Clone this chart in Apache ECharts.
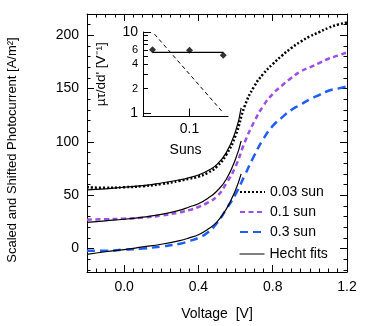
<!DOCTYPE html>
<html>
<head>
<meta charset="utf-8">
<script src="https://cdn.jsdelivr.net/npm/echarts@6/dist/echarts.min.js"></script>
<style>
html,body{margin:0;padding:0;background:#fff;}
#chart{width:382px;height:326px;}
</style>
</head>
<body>
<div id="chart"></div>
<script>
// main panel data (voltage in V, current in A/m2)
var voltage = [-0.2,-0.1,0.0,0.1,0.2,0.3,0.35,0.4,0.45,0.5,0.55,0.6,0.65,0.7,0.75,0.8,0.85,0.9,0.95,1.0,1.05,1.1,1.15,1.2];
var sun003 = [57.5,57,57.5,58.5,60.5,63.5,65.5,67.5,71,77,88,106,134,152,164,173,181,188,194,199,203,207,210,212];
var sun01  = [27,27.5,28,29,31,34,36,39,43,49,61,77,100,119,134,145,153,160,166,170,174,178,181,184];
var sun03  = [-2,-2,-1,0,2,4.5,7,10,15,24,37,51,69,87,103,115,123,130,135,140,144,148,150,152];
var fitVoltage = [-0.2,-0.1,0.0,0.1,0.2,0.3,0.35,0.4,0.45,0.5,0.55,0.6,0.63];
var fit003 = [55,56,57.5,59,61.5,64.5,66.5,69,73,79,90,110,132];
var fit01  = [24.5,26,27.5,29.5,32,36,39,42,47,54,65,84,101];
var fit03  = [-5.5,-3,-1,1.5,4,7.5,10,13,18,25,37,55,70];
var xLabels = [0, 0.4, 0.8, 1.2];
var yLabels = [0, 50, 100, 150, 200];
var yMinor = [-20,-10,0,10,20,30,40,50,60,70,80,90,100,110,120,130,140,150,160,170,180,190,200,210,220];

// inset data
var suns = [0.03, 0.1, 0.3];
var mutau = [6.05, 5.95, 5.15];
var fitSuns = [0.03, 0.3];
var mutauFit = [5.6, 5.6];
var dashSuns = [0.032, 0.3];
var dashVals = [9.4, 1.0];
var insetXLabels = [0.1];
var insetYLabels = [1, 2, 4, 6, 10];
var insetYMinor = [2, 3, 4, 5, 6, 7, 8, 9];

var FONT = 'Liberation Sans, Arial, sans-serif';

function zip(xs, ys){
	var out = [];
	for(var i=0;i<xs.length;i++){
		out.push([xs[i], ys[i]]);
	}
	return out;
}

var chartDom = document.getElementById('chart');
var myChart = echarts.init(chartDom);

var lineAx = {show:true, onZero:false, lineStyle:{color:'#000', width:1}};
var noLine = {show:false, onZero:false};
var noLabel = {show:false};

// main axes: one set for labels/major ticks, one for minor ticks, mirrored on the other side
function mainX(pos, major){
	var ax = {
		type:'value', gridIndex:0, position:pos, min:-0.2, max:1.2,
		axisLine: major ? lineAx : noLine,
		axisTick: major ? {show:true, inside:true, length:7, customValues:xLabels, lineStyle:{color:'#000'}}
		                : {show:true, inside:true, length:3.5, lineStyle:{color:'#000'}},
		axisLabel: (major && pos=='bottom') ? {
			show:true, customValues:xLabels, color:'#000', fontSize:14, fontFamily:FONT, margin:8,
			formatter:function(v){ return v.toFixed(1); }
		} : noLabel,
		splitLine:{show:false}
	};
	if(!major) ax.interval = 0.05;
	return ax;
}
function mainY(pos, major){
	return {
		type:'value', gridIndex:0, position:pos, min:-22, max:220,
		axisLine: major ? lineAx : noLine,
		axisTick: major ? {show:true, inside:true, length:7, customValues:yLabels, lineStyle:{color:'#000'}}
		                : {show:true, inside:true, length:3.5, customValues:yMinor, lineStyle:{color:'#000'}},
		axisLabel: (major && pos=='left') ? {
			show:true, customValues:yLabels, color:'#000', fontSize:14, fontFamily:FONT, margin:8
		} : noLabel,
		splitLine:{show:false}
	};
}

var xAxes = [mainX('bottom',true), mainX('bottom',false), mainX('top',true), mainX('top',false)];
xAxes[0].name = 'Voltage  [V]';
xAxes[0].nameLocation = 'middle';
xAxes[0].nameGap = 35;
xAxes[0].nameTextStyle = {color:'#000', fontSize:14, fontFamily:FONT};
xAxes.push({
	type:'log', gridIndex:1, position:'bottom', min:0.022, max:0.35,
	axisLine:lineAx,
	axisTick:{show:true, inside:true, length:8, customValues:insetXLabels, lineStyle:{color:'#000'}},
	axisLabel:{show:true, customValues:insetXLabels, color:'#000', fontSize:14, fontFamily:FONT, margin:6,
		formatter:function(v){ return '0.1'; }},
	splitLine:{show:false},
	name:'Suns', nameLocation:'middle', nameGap:27,
	nameTextStyle:{color:'#000', fontSize:14, fontFamily:FONT}
});

var yAxes = [mainY('left',true), mainY('left',false), mainY('right',true), mainY('right',false)];
yAxes.push({
	type:'log', gridIndex:1, position:'left', min:0.9, max:10,
	axisLine:lineAx,
	axisTick:{show:true, inside:true, length:8, customValues:[1,10], lineStyle:{color:'#000'}},
	axisLabel:{show:true, customValues:insetYLabels, margin:5,
		formatter:function(v){
			var r = Math.round(v);
			return (r==1 || r==10) ? '{b|'+r+'}' : '{s|'+r+'}';
		},
		rich:{
			b:{fontSize:14, color:'#000', fontFamily:FONT},
			s:{fontSize:11, color:'#000', fontFamily:FONT}
		}
	},
	splitLine:{show:false},
	name:"µτ/dd' [V⁻¹]", nameLocation:'middle', nameGap:35,
	nameTextStyle:{color:'#000', fontSize:13.5, fontFamily:FONT}
});
yAxes.push({
	type:'log', gridIndex:1, position:'left', min:0.9, max:10,
	axisLine:noLine,
	axisTick:{show:true, inside:true, length:5, customValues:insetYMinor, lineStyle:{color:'#000'}},
	axisLabel:noLabel,
	splitLine:{show:false}
});

function dataLine(name, xs, ys, color, dash){
	return {
		name:name, type:'line', xAxisIndex:0, yAxisIndex:0,
		data:zip(xs, ys), smooth:0.5, symbol:'none',
		lineStyle:{color:color, width:2.5, type:dash, cap:'butt'},
		itemStyle:{color:color}, z:3
	};
}
function fitLine(xs, ys){
	return {
		name:'Hecht fits', type:'line', xAxisIndex:0, yAxisIndex:0,
		data:zip(xs, ys), smooth:0.5, symbol:'none',
		lineStyle:{color:'#000', width:1.2, type:'solid'},
		itemStyle:{color:'#000'}, z:4
	};
}

var legendBase = {
	orient:'vertical', left:239, itemWidth:25, itemHeight:2, itemGap:6, padding:0,
	itemStyle:{opacity:0},
	textStyle:{color:'#000', fontSize:14, fontFamily:FONT}
};

var option = {
	animation:false,
	textStyle:{fontFamily:FONT},
	grid:[
		{left:87, right:35, top:14, bottom:54},
		{left:143, top:32, width:85, height:84.5}
	],
	xAxis:xAxes,
	yAxis:yAxes,
	legend:[
		Object.assign({data:['0.03 sun','0.1 sun','0.3 sun'], top:185}, legendBase),
		Object.assign({data:['Hecht fits'], top:247, lineStyle:{width:1}}, legendBase)
	],
	graphic:[{
		type:'text', x:12, y:150, rotation:Math.PI/2,
		style:{text:'Scaled and Shifted Photocurrent [A/m²]', fill:'#000', font:'13px '+FONT,
			align:'center', verticalAlign:'middle'}
	}],
	series:[
		dataLine('0.03 sun', voltage, sun003, '#000', [2,2]),
		dataLine('0.1 sun', voltage, sun01, '#9b4fe6', [5,3.5]),
		dataLine('0.3 sun', voltage, sun03, '#1f5ef5', [8,5]),
		fitLine(fitVoltage, fit003),
		fitLine(fitVoltage, fit01),
		fitLine(fitVoltage, fit03),
		{
			type:'line', xAxisIndex:4, yAxisIndex:4, data:zip(fitSuns, mutauFit),
			symbol:'none', lineStyle:{color:'#000', width:1.2}, z:3
		},
		{
			type:'line', xAxisIndex:4, yAxisIndex:4, data:zip(dashSuns, dashVals),
			symbol:'none', lineStyle:{color:'#000', width:1, type:[4,3]}, z:3
		},
		{
			type:'scatter', xAxisIndex:4, yAxisIndex:4, data:zip(suns, mutau),
			symbol:'diamond', symbolSize:7, itemStyle:{color:'#000'}, z:5
		}
	]
};
myChart.setOption(option);
</script>
</body>
</html>
